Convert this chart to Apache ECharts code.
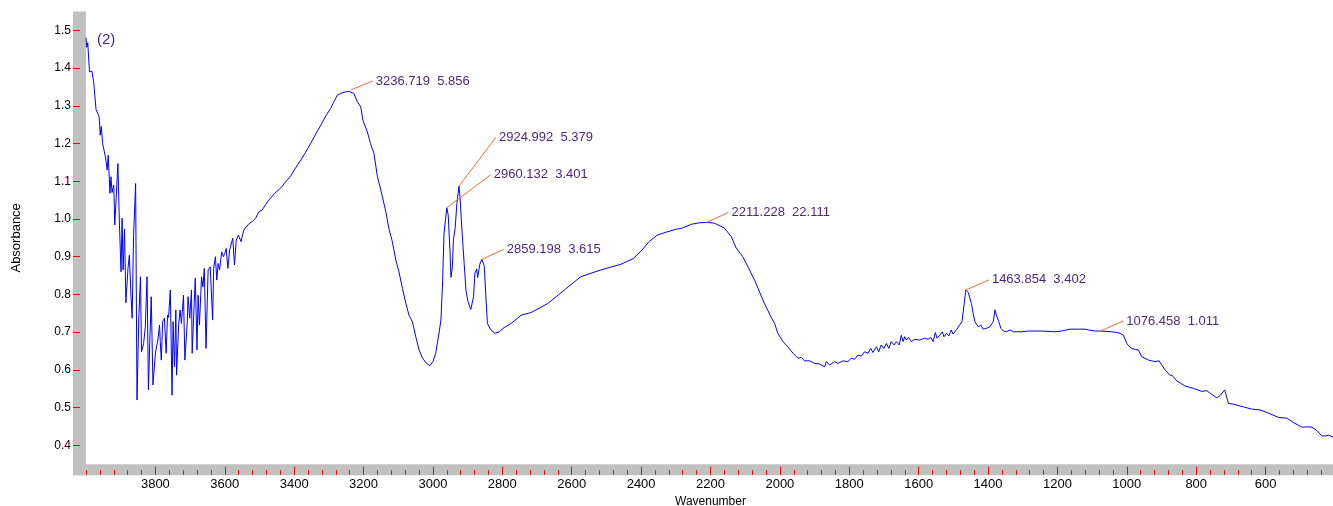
<!DOCTYPE html>
<html>
<head>
<meta charset="utf-8">
<script src="https://cdn.jsdelivr.net/npm/echarts@6/dist/echarts.min.js"></script>
<style>
html,body{margin:0;padding:0;background:#fff;}
#chart{width:1333px;height:506px;}
</style>
</head>
<body>
<div id="chart"></div>
<script>
// ---- data ----
const wavenumber = [
4000,3998,3995,3990,3983,3978,3971,3967,3962,3959,3956,3952,3949,3944,3939,3936,3931,3928,3925,3920,
3917,3915,3908,3904,3899,3896,3893,3889,3885,3879,3875,3870,3867,3863,3857,3853,3848,3843,3840,3834,
3829,3824,3820,3816,3812,3807,3800,3793,3788,3786,3783,3779,3774,3769,3765,3762,3757,3752,3749,3745,
3741,3739,3733,3729,3725,3719,3715,3708,3706,3701,3696,3694,3689,3685,3680,3677,3673,3667,3663,3659,
3654,3648,3642,3638,3635,3632,3627,3623,3619,3615,3609,3604,3600,3596,3591,3586,3582,3577,3572,3567,
3561,3558,3553,3550,3545,3540,3531,3521,3511,3502,3492,3483,3473,3456,3439,3425,3410,3396,3381,3367,
3352,3338,3323,3309,3295,3285,3276,3266,3252,3242,3237,3228,3218,3208,3202,3189,3180,3170,3160,3151,
3141,3136,3127,3117,3107,3098,3088,3078,3069,3059,3049,3040,3030,3020,3009,3000,2992,2982,2977,2972,
2968,2960,2956,2951,2948,2944,2941,2936,2931,2925,2922,2917,2910,2905,2899,2891,2883,2879,2874,2871,
2865,2859,2852,2848,2843,2833,2822,2809,2795,2775,2756,2746,2717,2669,2621,2574,2516,2458,2423,2400,
2377,2354,2328,2299,2284,2255,2231,2211,2189,2160,2140,2126,2107,2092,2073,2063,2045,2025,2015,2006,
1991,1977,1962,1948,1938,1929,1914,1900,1886,1871,1866,1857,1842,1833,1818,1804,1794,1785,1775,1765,
1756,1746,1738,1732,1722,1715,1708,1700,1693,1686,1679,1671,1664,1656,1650,1645,1640,1635,1629,1621,
1611,1597,1583,1573,1565,1558,1552,1547,1539,1532,1527,1520,1513,1506,1501,1491,1482,1475,1470,1464,
1457,1453,1448,1443,1438,1433,1428,1424,1421,1414,1405,1395,1385,1380,1376,1369,1363,1356,1347,1337,
1327,1303,1284,1246,1207,1188,1164,1140,1121,1111,1092,1076,1044,1034,1020,1010,1000,995,986,976,
967,957,952,938,919,914,907,899,890,885,876,870,856,851,832,808,803,784,770,755,
741,731,718,707,692,688,673,664,640,616,591,563,539,519,495,481,466,452,438,428,
418,409,400
];
const absorbance = [
1.480,1.455,1.467,1.390,1.392,1.364,1.290,1.289,1.271,1.222,1.245,1.200,1.199,1.165,1.130,1.169,1.068,1.112,1.070,1.090,
0.984,0.987,1.147,0.997,0.860,1.002,0.865,0.973,0.778,0.869,0.904,0.790,0.737,0.953,1.094,0.520,0.732,0.847,0.648,0.670,
0.714,0.847,0.547,0.679,0.794,0.560,0.644,0.679,0.719,0.675,0.626,0.728,0.737,0.644,0.745,0.739,0.812,0.533,0.728,0.608,
0.759,0.586,0.719,0.759,0.723,0.798,0.626,0.728,0.794,0.737,0.812,0.644,0.759,0.843,0.653,0.798,0.719,0.847,0.820,0.869,
0.657,0.865,0.873,0.873,0.732,0.869,0.900,0.838,0.882,0.865,0.913,0.900,0.909,0.922,0.869,0.918,0.922,0.949,0.878,0.944,
0.957,0.962,0.940,0.953,0.971,0.975,0.987,0.993,1.002,1.019,1.024,1.037,1.050,1.068,1.082,1.098,1.114,1.135,1.156,1.177,
1.201,1.225,1.249,1.273,1.293,1.311,1.328,1.333,1.337,1.338,1.342,1.333,1.311,1.297,1.262,1.231,1.200,1.174,1.112,1.080,
1.040,1.020,0.975,0.940,0.891,0.860,0.816,0.776,0.745,0.727,0.686,0.653,0.631,0.619,0.611,0.622,0.644,0.701,0.732,0.838,
0.962,1.030,1.010,0.918,0.845,0.873,0.944,0.975,1.041,1.087,1.059,0.979,0.882,0.812,0.781,0.760,0.794,0.856,0.867,0.845,
0.880,0.893,0.875,0.803,0.723,0.706,0.697,0.701,0.712,0.723,0.737,0.745,0.752,0.776,0.812,0.847,0.865,0.880,0.895,0.915,
0.940,0.957,0.965,0.973,0.975,0.986,0.990,0.991,0.989,0.976,0.953,0.923,0.900,0.873,0.838,0.816,0.777,0.739,0.723,0.697,
0.675,0.661,0.644,0.631,0.633,0.624,0.624,0.617,0.616,0.608,0.622,0.613,0.622,0.617,0.624,0.622,0.631,0.628,0.639,0.637,
0.648,0.644,0.657,0.646,0.661,0.648,0.666,0.657,0.670,0.657,0.675,0.666,0.675,0.666,0.692,0.675,0.688,0.679,0.686,0.675,
0.681,0.679,0.684,0.681,0.686,0.675,0.699,0.684,0.692,0.701,0.688,0.697,0.690,0.706,0.695,0.706,0.719,0.728,0.767,0.812,
0.805,0.809,0.776,0.750,0.728,0.723,0.714,0.710,0.719,0.708,0.710,0.714,0.728,0.759,0.745,0.728,0.710,0.703,0.701,0.706,
0.701,0.701,0.703,0.703,0.701,0.703,0.708,0.708,0.708,0.706,0.703,0.703,0.701,0.700,0.697,0.692,0.670,0.664,0.657,0.654,
0.653,0.635,0.635,0.626,0.622,0.622,0.624,0.613,0.600,0.600,0.586,0.586,0.571,0.573,0.557,0.551,0.554,0.543,0.545,0.535,
0.526,0.532,0.547,0.511,0.509,0.507,0.504,0.502,0.496,0.494,0.485,0.474,0.472,0.460,0.448,0.449,0.448,0.439,0.425,0.425,
0.427,0.423,0.420
];
const peakWavenumber = [3236.719, 2924.992, 2960.132, 2859.198, 2211.228, 1463.854, 1076.458];
const peakAbsorbance = [1.342, 1.087, 1.030, 0.893, 0.991, 0.812, 0.703];
const peakText = ['3236.719  5.856', '2924.992  5.379', '2960.132  3.401', '2859.198  3.615',
                  '2211.228  22.111', '1463.854  3.402', '1076.458  1.011'];
const yTickValues = [0.4, 0.5, 0.6, 0.7, 0.8, 0.9, 1.0, 1.1, 1.2, 1.3, 1.4, 1.5];
const sampleLabel = '(2)';

// ---- styling / layout (not data) ----
const labelOffsets = [[22,-9],[37,-49],[44,-33],[22,-10],[22,-10],[23,-10],[23,-10]];
const FONT = 'Liberation Sans, Arial, sans-serif';
const GRID = {left: 86, top: 11.5, width: 1249, height: 452.7};
const BAND = '#c0c0c0';
const TICK = '#ff0000';

const spectrum = wavenumber.map((w, i) => [w, absorbance[i]]);
const peaks = peakWavenumber.map((w, i) => [w, peakAbsorbance[i], i]);

const chart = echarts.init(document.getElementById('chart'), null, {renderer: 'canvas'});
chart.setOption({
  animation: false,
  backgroundColor: '#fff',
  grid: {left: GRID.left, top: GRID.top, width: GRID.width, height: GRID.height,
         containLabel: false, outerBoundsMode: 'none'},
  graphic: {elements: [
    {type: 'rect', z: -1, silent: true, shape: {x: 73, y: GRID.top, width: GRID.left - 73, height: GRID.height + 11}, style: {fill: BAND}},
    {type: 'rect', z: -1, silent: true, shape: {x: 73, y: GRID.top + GRID.height, width: 1333 - 73, height: 11}, style: {fill: BAND}},
    {type: 'text', left: 97, top: 32, style: {text: sampleLabel, fill: '#4d2683', font: '15px ' + FONT}}
  ]},
  xAxis: [{
    type: 'value', inverse: true, min: 400, max: 4000, interval: 200, position: 'bottom',
    offset: 10.5,
    name: 'Wavenumber', nameLocation: 'middle', nameGap: 18,
    nameTextStyle: {color: '#000', fontSize: 12, fontFamily: FONT},
    axisLine: {show: false},
    axisTick: {show: true, inside: true, length: 8, lineStyle: {color: TICK, width: 1}},
    axisLabel: {showMinLabel: false, showMaxLabel: false, margin: 3, color: '#000', fontSize: 13, fontFamily: FONT,
                formatter: v => String(v)},
    splitLine: {show: false}
  }, {
    type: 'value', inverse: true, min: 400, max: 4000, interval: 40, position: 'bottom',
    offset: 10.5,
    axisLine: {show: false},
    axisTick: {show: true, inside: true, length: 4.5, lineStyle: {color: TICK, width: 1}},
    axisLabel: {show: false},
    splitLine: {show: false}
  }],
  yAxis: {
    type: 'value', min: 0.35, max: 1.55,
    offset: 13,
    name: 'Absorbance', nameLocation: 'middle', nameGap: 50, nameRotate: 90,
    nameTextStyle: {color: '#000', fontSize: 13, fontFamily: FONT},
    axisLine: {show: false},
    axisTick: {show: true, inside: true, length: 7, customValues: yTickValues, lineStyle: {color: TICK, width: 1}},
    axisLabel: {customValues: yTickValues, margin: 2, color: '#000', fontSize: 12, fontFamily: FONT,
                formatter: v => Number(v).toFixed(1)},
    splitLine: {show: false}
  },
  series: [
    {
      type: 'line', data: spectrum, showSymbol: false, symbol: 'none', xAxisIndex: 0,
      lineStyle: {color: '#0000ff', width: 1}, clip: true, z: 2
    },
    {
      type: 'custom', data: peaks, clip: false, z: 3, xAxisIndex: 0,
      renderItem: function (params, api) {
        const p = api.coord([api.value(0), api.value(1)]);
        const off = labelOffsets[api.value(2)];
        const ex = p[0] + off[0], ey = p[1] + off[1];
        return {type: 'group', children: [
          {type: 'line', shape: {x1: p[0], y1: p[1], x2: ex, y2: ey}, style: {stroke: '#f26b3a', lineWidth: 1}},
          {type: 'text', x: ex + 3, y: ey, style: {text: peakText[api.value(2)], fill: '#4d2683',
            font: '13px ' + FONT, textAlign: 'left', textVerticalAlign: 'middle'}}
        ]};
      }
    }
  ]
});
</script>
</body>
</html>
